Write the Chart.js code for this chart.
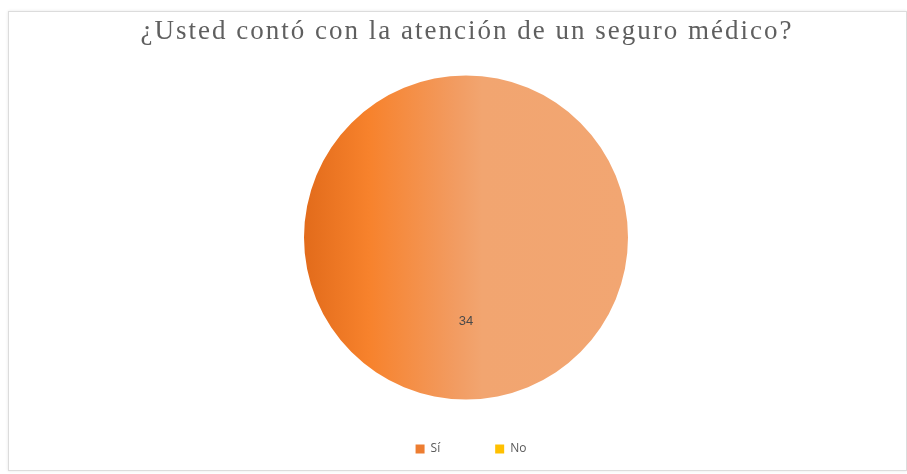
<!DOCTYPE html>
<html>
<head>
<meta charset="utf-8">
<script src="https://cdn.jsdelivr.net/npm/chart.js@4.4.1/dist/chart.umd.min.js"></script>
<style>
  html, body { margin: 0; padding: 0; background: #ffffff; }
  #wrap { position: relative; width: 907px; height: 474px; }
  #frame { position: absolute; left: 8px; top: 11px; width: 897px; height: 458px;
           border: 1px solid #dcdcdc; box-shadow: 0 0 3px rgba(0,0,0,0.10); }
  canvas { position: absolute; left: 0; top: 0; }
</style>
</head>
<body>
<div id="wrap">
  <div id="frame"></div>
  <canvas id="chart" width="907" height="474"></canvas>
</div>
<script>
// Survey answers and their counts
const categories = ['Sí', 'No'];
const counts = [34, 0];
const chartTitle = '¿Usted contó con la atención de un seguro médico?';
const baseColors = ['#ED7D31', '#FFC000'];

const PIE_RADIUS = 162;

// Horizontal shading across the "Sí" slice, darker on the left
function sliceFill(context) {
  const chart = context.chart;
  const area = chart.chartArea;
  if (!area) return baseColors[context.dataIndex];
  if (context.dataIndex !== 0) return baseColors[context.dataIndex];
  const cx = (area.left + area.right) / 2;
  const g = chart.ctx.createLinearGradient(cx - PIE_RADIUS, 0, cx + PIE_RADIUS, 0);
  g.addColorStop(0, '#E26B1B');
  g.addColorStop(0.2, '#F7822C');
  g.addColorStop(0.47, '#F29C62');
  g.addColorStop(0.55, '#F2A570');
  g.addColorStop(1, '#F2A672');
  return g;
}

// Wider letter spacing for the title, and a small nudge of the legend row
const titleAndLegendTweaks = {
  id: 'titleAndLegendTweaks',
  afterLayout(chart) {
    const lg = chart.legend;
    if (lg) { lg.left += 5; lg.right += 5; }
  },
  beforeDraw(chart) {
    const tb = chart.titleBlock;
    if (tb && !tb._spaced) {
      const orig = tb.draw;
      tb.draw = function (area) {
        const ctx = this.ctx;
        ctx.save();
        ctx.letterSpacing = '2px';
        ctx.translate(1, 0);
        orig.call(this, area);
        ctx.restore();
      };
      tb._spaced = true;
    }
  }
};

// Writes each slice's value inside the slice
const valueLabels = {
  id: 'valueLabels',
  afterDatasetsDraw(chart) {
    const ctx = chart.ctx;
    const meta = chart.getDatasetMeta(0);
    ctx.save();
    ctx.font = '13px "Liberation Sans", Arial, sans-serif';
    ctx.fillStyle = '#4a4a4a';
    ctx.textAlign = 'center';
    ctx.textBaseline = 'middle';
    meta.data.forEach((arc, i) => {
      const v = chart.data.datasets[0].data[i];
      if (!v) return;
      const p = arc.tooltipPosition();
      ctx.fillText(String(v), p.x, p.y + 3);
    });
    ctx.restore();
  }
};

new Chart(document.getElementById('chart'), {
  type: 'pie',
  data: {
    labels: categories,
    datasets: [{
      data: counts,
      backgroundColor: sliceFill,
      borderWidth: 0,
      radius: PIE_RADIUS,
      clip: false
    }]
  },
  options: {
    responsive: false,
    animation: false,
    layout: { padding: { left: 25, right: 0, top: 0, bottom: 9 } },
    plugins: {
      title: {
        display: true,
        text: chartTitle,
        color: '#5f5f5f',
        font: { family: '"Liberation Serif", "Times New Roman", serif', size: 27, weight: 'normal' },
        padding: { top: 16, bottom: 38.6 }
      },
      legend: {
        position: 'bottom',
        labels: {
          color: '#595959',
          font: { family: '"Open Sans", "Liberation Sans", sans-serif', size: 12 },
          boxWidth: 9,
          boxHeight: 9,
          padding: 55,
          generateLabels(chart) {
            return categories.map((c, i) => ({
              text: c,
              fillStyle: baseColors[i],
              strokeStyle: baseColors[i],
              lineWidth: 0,
              hidden: false,
              index: i,
              fontColor: '#595959'
            }));
          }
        }
      },
      tooltip: { enabled: false }
    }
  },
  plugins: [titleAndLegendTweaks, valueLabels]
});
</script>
</body>
</html>
